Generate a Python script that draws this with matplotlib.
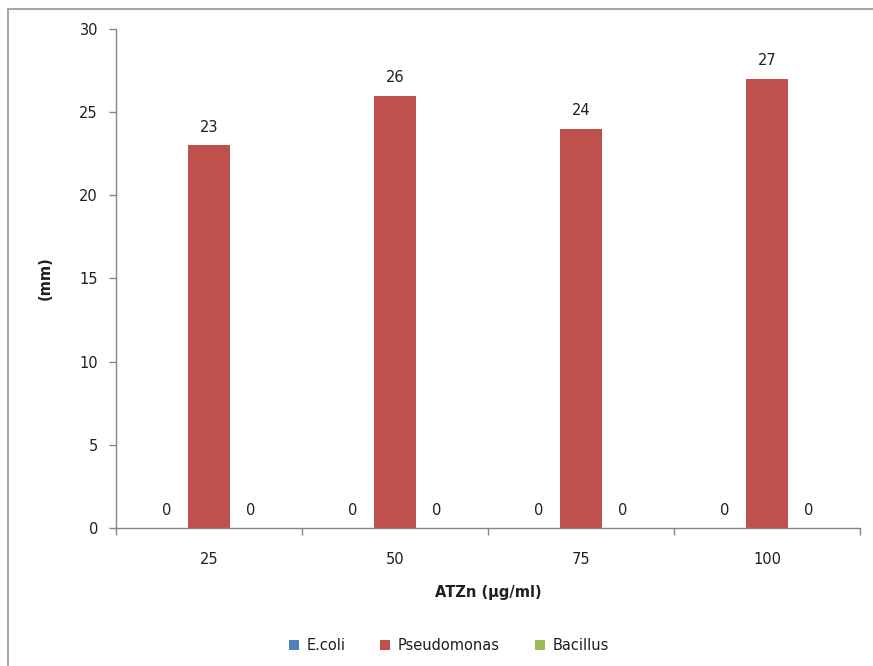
import numpy as np
import matplotlib
matplotlib.use("Agg")
import matplotlib.pyplot as plt
from matplotlib.patches import Rectangle

# zone of inhibition per concentration
concentrations = ["25", "50", "75", "100"]
series_names = ["E.coli", "Pseudomonas", "Bacillus"]
ecoli = [0, 0, 0, 0]
pseudomonas = [23, 26, 24, 27]
bacillus = [0, 0, 0, 0]
series_colors = ["#4F81BD", "#C0504D", "#9BBB59"]

plt.rcParams['font.family'] = ['DejaVu Sans']
text_color = "#1F1F1F"
axis_gray = "#868686"
fs = 10.5

fig = plt.figure(figsize=(8.73, 6.66), dpi=100)
ax = fig.add_axes([0.1329, 0.2072, 0.8522, 0.7493])

# outer chart frame
fig.patches.append(Rectangle((8 / 873, -0.05), 1.2, 1 - 9 / 666 + 0.05,
                             transform=fig.transFigure, fill=False,
                             edgecolor="#A6A6A6", linewidth=1.5))

x = np.arange(len(concentrations))
width = 0.225
all_values = [ecoli, pseudomonas, bacillus]
for i, (name, vals, col) in enumerate(zip(series_names, all_values, series_colors)):
    bars = ax.bar(x + (i - 1) * width, vals, width, color=col, label=name,
                  edgecolor="none")
    for b, v in zip(bars, vals):
        ax.annotate(f"{v}", (b.get_x() + b.get_width() / 2, v),
                    xytext=(0, 7.5), textcoords="offset points",
                    ha="center", va="bottom", fontsize=fs, color=text_color)

ax.set_xlim(-0.5, len(concentrations) - 0.5)
ax.set_ylim(0, 30)
ax.set_yticks([0, 5, 10, 15, 20, 25, 30])

# tick marks at category boundaries, labels at centres
ax.set_xticks(np.arange(-0.5, len(concentrations), 1.0))
ax.set_xticklabels([])
ax.set_xticks(x, minor=True)
ax.set_xticklabels(concentrations, minor=True)
ax.tick_params(axis="x", which="major", length=5, width=1, color=axis_gray,
               direction="out")
ax.tick_params(axis="x", which="minor", length=0, pad=17, labelsize=fs,
               labelcolor=text_color)
ax.tick_params(axis="y", length=5, width=1, color=axis_gray, direction="out",
               pad=8, labelsize=fs, labelcolor=text_color)

for s in ["top", "right"]:
    ax.spines[s].set_visible(False)
for s in ["left", "bottom"]:
    ax.spines[s].set_color(axis_gray)
    ax.spines[s].set_linewidth(1)

ax.set_xlabel("ATZn (µg/ml)", fontsize=fs, fontweight="bold", color=text_color,
              labelpad=13)
ax.set_ylabel("(mm)", fontsize=fs, fontweight="bold", color=text_color,
              labelpad=19)

fig.legend(loc="center", bbox_to_anchor=(0.514, 0.031), ncol=3, frameon=False,
           fontsize=fs, handlelength=0.7, handleheight=0.7, handletextpad=0.5,
           columnspacing=2.4, labelcolor=text_color)

fig.savefig("out.png", dpi=100, facecolor="white")
